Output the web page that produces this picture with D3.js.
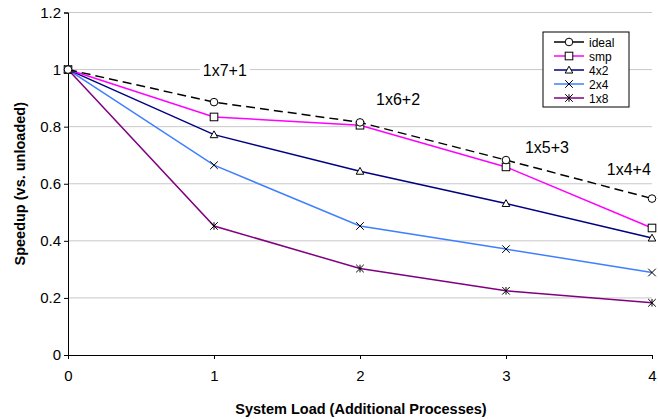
<!DOCTYPE html>
<html>
<head>
<meta charset="utf-8">
<script src="https://cdn.jsdelivr.net/npm/d3@7"></script>
<style>
  body { margin: 0; background: #fff; }
  svg { display: block; font-family: "Liberation Sans", Arial, sans-serif; }
</style>
</head>
<body>
<svg id="chart" width="658" height="419"></svg>
<script>
const loads = [0, 1, 2, 3, 4]
const yTicks = [0, 0.2, 0.4, 0.6, 0.8, 1, 1.2]
const yTickLabels = ["0", "0.2", "0.4", "0.6", "0.8", "1", "1.2"]

const ideal = [1, 0.886, 0.815, 0.683, 0.548]
const smp = [1, 0.834, 0.805, 0.659, 0.445]
const x4x2 = [1, 0.772, 0.644, 0.531, 0.41]
const x2x4 = [1, 0.665, 0.452, 0.371, 0.289]
const x1x8 = [1, 0.452, 0.303, 0.225, 0.183]

const seriesNames = ["ideal", "smp", "4x2", "2x4", "1x8"]
const seriesValues = [ideal, smp, x4x2, x2x4, x1x8]

const configLabels = ["1x7+1", "1x6+2", "1x5+3", "1x4+4"]

// styles / placement (not data)
const seriesColors = ["#000000", "#ff00ff", "#000080", "#3f7fff", "#800080"]
const seriesMarkers = ["circle", "square", "triangle", "x", "star"]
const configLabelAt = [[0.923, 0.979], [2.11, 0.876], [3.13, 0.707], [3.69, 0.631]]

const svg = d3.select("#chart")
const x = d3.scaleLinear().domain([0, 4]).range([68, 652])
const y = d3.scaleLinear().domain([0, 1.2]).range([355, 12.5])

// gridlines
svg.append("g")
    .selectAll("line")
    .data(yTicks.filter(d => d > 0))
    .enter()
    .append("line")
    .attr("x1", x(0)).attr("x2", x(4))
    .attr("y1", d => y(d)).attr("y2", d => y(d))
    .attr("stroke", "#c8c8c8")
    .attr("stroke-width", 1)

// config annotations (white background hides gridline)
configLabels.forEach((t, i) => {
    const g = svg.append("g")
    const txt = g.append("text")
        .attr("x", x(configLabelAt[i][0]))
        .attr("y", y(configLabelAt[i][1]))
        .attr("font-size", 16)
        .attr("fill", "#000")
        .text(t)
    const bb = txt.node().getBBox()
    g.insert("rect", "text")
        .attr("x", bb.x - 3).attr("y", bb.y)
        .attr("width", bb.width + 6).attr("height", bb.height)
        .attr("fill", "#fff")
})

// axes
const yAxis = d3.axisLeft(y).tickValues(yTicks)
    .tickFormat((d, i) => yTickLabels[i]).tickSize(4).tickPadding(3)
svg.append("g")
    .attr("transform", `translate(${x(0)},0)`)
    .call(yAxis)
    .call(g => g.select(".domain").attr("stroke", "#000"))
    .call(g => g.selectAll("text").attr("font-size", 15).attr("font-family", "Liberation Sans, Arial"))

const xAxis = d3.axisBottom(x).tickValues(loads).tickFormat(d3.format("d")).tickSize(4).tickPadding(11)
svg.append("g")
    .attr("transform", `translate(0,${y(0)})`)
    .call(xAxis)
    .call(g => g.select(".domain").attr("stroke", "#000"))
    .call(g => g.selectAll("text").attr("font-size", 15).attr("font-family", "Liberation Sans, Arial"))

// axis titles
svg.append("text")
    .attr("x", 361).attr("y", 414)
    .attr("text-anchor", "middle")
    .attr("font-size", 14.5).attr("font-weight", "bold")
    .text("System Load (Additional Processes)")

svg.append("text")
    .attr("transform", `translate(25,${y(0.6)}) rotate(-90)`)
    .attr("text-anchor", "middle")
    .attr("font-size", 14.5).attr("font-weight", "bold")
    .text("Speedup (vs. unloaded)")

function drawMarker(g, type, cx, cy) {
    const s = 3.8
    if (type === "circle") {
        g.append("circle").attr("cx", cx).attr("cy", cy).attr("r", s)
            .attr("fill", "#fff").attr("stroke", "#000")
    } else if (type === "square") {
        g.append("rect").attr("x", cx - s).attr("y", cy - s).attr("width", 2 * s).attr("height", 2 * s)
            .attr("fill", "#fff").attr("stroke", "#000")
    } else if (type === "triangle") {
        g.append("path").attr("d", `M${cx},${cy - s}L${cx + s},${cy + s * 0.8}L${cx - s},${cy + s * 0.8}Z`)
            .attr("fill", "#fff").attr("stroke", "#000")
    } else if (type === "x") {
        g.append("path").attr("d", `M${cx - s},${cy - s}L${cx + s},${cy + s}M${cx - s},${cy + s}L${cx + s},${cy - s}`)
            .attr("stroke", "#000").attr("fill", "none")
    } else {
        g.append("path").attr("d", `M${cx - s},${cy - s}L${cx + s},${cy + s}M${cx - s},${cy + s}L${cx + s},${cy - s}M${cx},${cy - s}L${cx},${cy + s}`)
            .attr("stroke", "#000").attr("fill", "none")
    }
}

const line = d3.line().x((d, i) => x(loads[i])).y(d => y(d))

// draw series back to front so ideal is on top
for (let k = seriesNames.length - 1; k >= 0; k--) {
    const g = svg.append("g")
    g.append("path")
        .datum(seriesValues[k])
        .attr("d", line)
        .attr("fill", "none")
        .attr("stroke", seriesColors[k])
        .attr("stroke-width", 1.5)
        .attr("stroke-dasharray", k === 0 ? "9,5" : null)
    seriesValues[k].forEach((v, i) => drawMarker(g, seriesMarkers[k], x(loads[i]), y(v)))
}

// legend
const lg = svg.append("g").attr("transform", "translate(543,32)")
lg.append("rect").attr("width", 86).attr("height", 75)
    .attr("fill", "#fff").attr("stroke", "#000").attr("stroke-width", 1)
seriesNames.forEach((n, i) => {
    const yy = 10 + i * 14
    lg.append("line").attr("x1", 11).attr("x2", 41).attr("y1", yy).attr("y2", yy)
        .attr("stroke", seriesColors[i]).attr("stroke-width", 1.5)
    drawMarker(lg, seriesMarkers[i], 26, yy)
    lg.append("text").attr("x", 46).attr("y", yy + 4.5)
        .attr("font-size", 12).text(n)
})
</script>
</body>
</html>
